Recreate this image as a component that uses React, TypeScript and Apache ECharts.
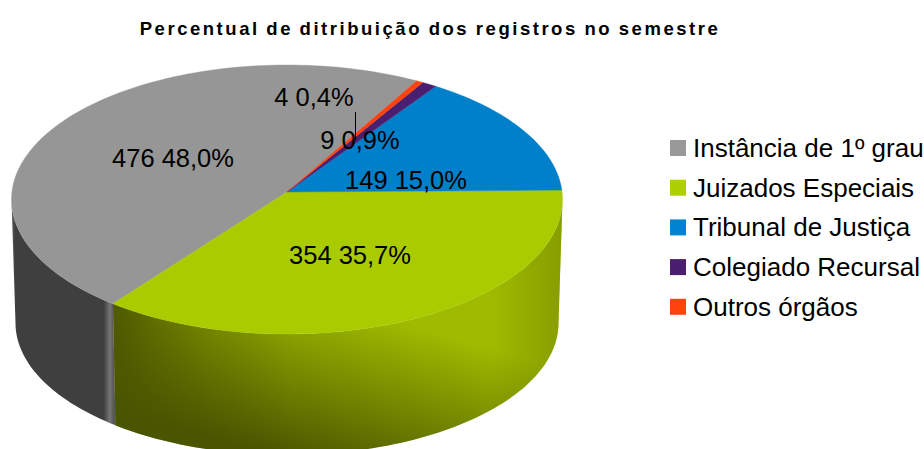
import React, { useEffect, useRef } from "react";
import * as echarts from "echarts";

const titleText = "Percentual de ditribuição dos registros no semestre";
const categories = ["Instância de 1º grau", "Juizados Especiais", "Tribunal de Justiça", "Colegiado Recursal", "Outros órgãos"];
const registros = [476, 354, 149, 9, 4];
const sliceColors = ["#969696", "#aacb00", "#0080ca", "#4b1f6f", "#ff420e"];
const legendColors = ["#999999", "#aecf00", "#0084d1", "#4b1f6f", "#ff420e"];
// clockwise order of the slices, starting at three o'clock
const sweepOrder = [1, 0, 4, 3, 2];

const total = registros.reduce((a, b) => a + b, 0);
const startOf: number[] = [];
let running = 0;
sweepOrder.forEach((i) => {
  startOf[i] = running;
  running += registros[i];
});

const FONT = "'Liberation Sans', Arial, sans-serif";
const apex = [287, 192];
const topEllipse = { cx: 287, cy: 199.5, rx: 275.5, ry: 134.5 };
const bottomEllipse = { cx: 287, cy: 323, rx: 271.5, ry: 132 };
const labelSpots = [
  [173, 158],
  [350, 255],
  [406, 180],
  [360, 140],
  [314, 97],
];

const rad = (d: number) => (d * Math.PI) / 180;
// maps a share of the pie to the angle seen on the tilted, perspective ellipse
const viewAngle = (theta: number) =>
  theta - 1.32 - 2.68 * Math.cos(rad(theta)) + 0.45 * Math.sin(rad(theta));
const onEllipse = (e: typeof topEllipse, phi: number) => [
  e.cx + e.rx * Math.cos(rad(phi)),
  e.cy + e.ry * Math.sin(rad(phi)),
];
const arcPoints = (e: typeof topEllipse, from: number, to: number) => {
  const n = Math.max(2, Math.ceil(Math.abs(to - from) / 1.5));
  const pts: number[][] = [];
  for (let i = 0; i <= n; i++) pts.push(onEllipse(e, from + ((to - from) * i) / n));
  return pts;
};

const LG = echarts.graphic.LinearGradient;
// each wall is a stack of fills painted over each other
const wallFills: Record<number, any[]> = {
  0: [
    new LG(
      12, 0, 115, 0,
      [
        { offset: 0, color: "#5a5a5a" },
        { offset: 0.03, color: "#3f3f3f" },
        { offset: 0.89, color: "#3f3f3f" },
        { offset: 0.95, color: "#767676" },
        { offset: 0.98, color: "#5c5c5c" },
        { offset: 1, color: "#555555" },
      ],
      true
    ),
  ],
  1: [
    new LG(
      299, 265, 247, 447,
      [
        { offset: 0, color: "#9fbb00" },
        { offset: 0.14, color: "#9fbb00" },
        { offset: 1, color: "#4a5500" },
      ],
      true
    ),
    new LG(
      115, 0, 290, 0,
      [
        { offset: 0, color: "rgba(74,85,0,0.9)" },
        { offset: 0.25, color: "rgba(74,85,0,0.55)" },
        { offset: 0.55, color: "rgba(74,85,0,0.25)" },
        { offset: 1, color: "rgba(74,85,0,0)" },
      ],
      true
    ),
    new LG(
      490, 0, 562, 0,
      [
        { offset: 0, color: "rgba(105,122,0,0)" },
        { offset: 1, color: "rgba(105,122,0,0.45)" },
      ],
      true
    ),
  ],
};

const renderSlice = (params: any, api: any) => {
  const idx = params.seriesIndex as number;
  const value = api.value(0) as number;
  const startTheta = (startOf[idx] / total) * 360;
  const endTheta = ((startOf[idx] + value) / total) * 360;
  const from = viewAngle(startTheta);
  const to = viewAngle(endTheta);
  const children: any[] = [];

  const wallFrom = Math.max(from, 0);
  const wallTo = Math.min(to, 180);
  if (wallTo > wallFrom) {
    const upper = arcPoints(topEllipse, wallFrom, wallTo);
    const lower = arcPoints(bottomEllipse, wallFrom, wallTo).reverse();
    (wallFills[idx] ?? [sliceColors[idx]]).forEach((fill) => {
      children.push({
        type: "polygon",
        shape: { points: upper.concat(lower) },
        style: { fill },
        silent: true,
      });
    });
  }
  children.push({
    type: "polygon",
    shape: { points: [apex].concat(arcPoints(topEllipse, from, to)) },
    style: { fill: sliceColors[idx], stroke: sliceColors[idx], lineWidth: 0.4 },
    silent: true,
  });
  return { type: "group", children };
};

const percentText = (v: number) => `${v} ${((v / total) * 100).toFixed(1).replace(".", ",")}%`;

const renderLabel = (params: any, api: any) => {
  const idx = params.dataIndex as number;
  const children: any[] = [
    {
      type: "text",
      style: {
        text: percentText(api.value(0)),
        x: labelSpots[idx][0],
        y: labelSpots[idx][1],
        align: "center",
        verticalAlign: "middle",
        fontFamily: FONT,
        fontSize: 25.5,
        fill: "#000000",
      },
      silent: true,
    },
  ];
  if (idx === 3) {
    children.push({
      type: "line",
      shape: { x1: 355.5, y1: 112, x2: 355.5, y2: 140 },
      style: { stroke: "#000000", lineWidth: 1 },
      silent: true,
    });
  }
  return { type: "group", children };
};

export default function App() {
  const ref = useRef<HTMLDivElement>(null);
  useEffect(() => {
    const chart = echarts.init(ref.current!, null, { renderer: "svg" });
    chart.setOption({
      animation: false,
      backgroundColor: "#ffffff",
      title: {
        text: titleText,
        left: 425,
        top: 14,
        textAlign: "center",
        textStyle: { fontFamily: FONT, fontWeight: "bold", fontSize: 18.5, color: "#000000" },
      },
      legend: {
        data: categories,
        orient: "vertical",
        left: 670,
        top: 133,
        icon: "rect",
        itemWidth: 16,
        itemHeight: 16,
        itemGap: 9.7,
        padding: 0,
        selectedMode: false,
        textStyle: { fontFamily: FONT, fontSize: 26, color: "#000000", padding: [0, 0, 0, 2], lineHeight: 30 },
      },
      series: [
        ...categories.map((name, i) => ({
          type: "custom",
          name,
          coordinateSystem: "none",
          silent: true,
          itemStyle: { color: legendColors[i] },
          data: [[registros[i]]],
          renderItem: renderSlice,
        })),
        {
          type: "custom",
          name: "rotulos",
          coordinateSystem: "none",
          silent: true,
          data: registros.map((v) => [v]),
          renderItem: renderLabel,
        },
      ],
    });
    return () => chart.dispose();
  }, []);
  return (
    <>
      <style>{`text[style*="bold"]{letter-spacing:2.53px;word-spacing:-1px}`}</style>
      <div ref={ref} style={{ position: "absolute", left: 0, top: 0, width: 924, height: 449 }} />
    </>
  );
}
